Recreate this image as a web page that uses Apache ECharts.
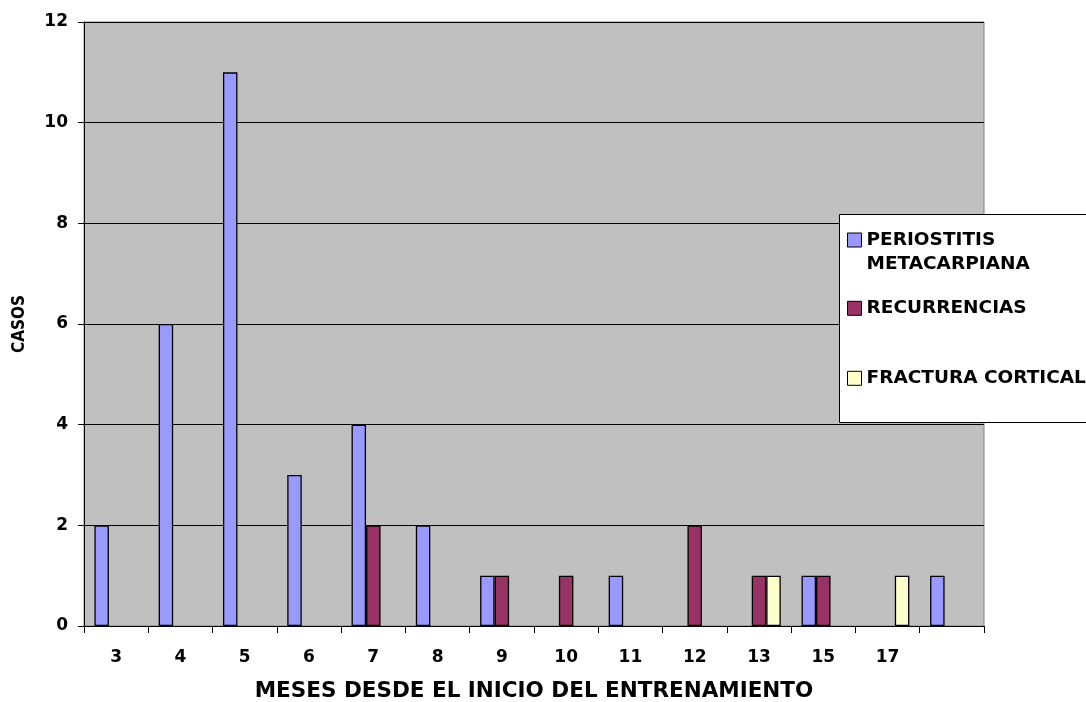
<!DOCTYPE html>
<html>
<head>
<meta charset="utf-8">
<script src="https://cdn.jsdelivr.net/npm/echarts@6/dist/echarts.min.js"></script>
<style>
  html, body { margin: 0; padding: 0; background: #fff; }
  #chart { width: 1086px; height: 702px; }
</style>
</head>
<body>
<div id="chart"></div>
<script>
// Months since the start of training (last slot has no label)
const categories = ['3', '4', '5', '6', '7', '8', '9', '10', '11', '12', '13', '15', '17', ''];

// Case counts per month
const periostitis = [2, 6, 11, 3, 4, 2, 1, 0, 1, 0, 0, 1, 0, 1];
const recurrencias = [0, 0, 0, 0, 2, 0, 1, 1, 0, 2, 1, 1, 0, 0];
const fractura = [0, 0, 0, 0, 0, 0, 0, 0, 0, 0, 1, 0, 1, 0];

const seriesNames = ['PERIOSTITIS METACARPIANA', 'RECURRENCIAS', 'FRACTURA CORTICAL'];
const legendLabels = ['\nPERIOSTITIS\nMETACARPIANA', 'RECURRENCIAS', 'FRACTURA CORTICAL'];
const seriesColors = ['#9999FF', '#993366', '#FFFFCC'];
const seriesData = [periostitis, recurrencias, fractura];

const yTicks = { min: 0, max: 12, interval: 2 };

const font = 'DejaVu Sans, Verdana, sans-serif';
const textBase = { fontFamily: font, fontWeight: 'bold', fontSize: 17, color: '#000' };

const chart = echarts.init(document.getElementById('chart'));

// empty months draw no bar at all
const toBars = arr => arr.map(v => (v === 0 ? '-' : v));

const legendTops = [204, 296.3, 366.3];

chart.setOption({
  animation: false,
  backgroundColor: '#ffffff',
  grid: {
    left: 84, right: 102, top: 22, bottom: 76,
    outerBoundsMode: 'none',
    containLabel: false,
    show: true, backgroundColor: '#C0C0C0', borderColor: '#808080', borderWidth: 1
  },
  graphic: [{
    type: 'rect', z: 3,
    shape: { x: 839.5, y: 214.5, width: 260, height: 208 },
    style: { fill: '#ffffff', stroke: '#000000', lineWidth: 1 }
  }],
  legend: seriesNames.map((name, i) => ({
    data: [name],
    formatter: () => legendLabels[i],
    orient: 'vertical',
    left: 847,
    top: legendTops[i],
    padding: 0,
    itemWidth: 14,
    itemHeight: 14,
    itemGap: 0,
    icon: 'rect',
    selectedMode: false,
    z: 5,
    itemStyle: { borderColor: '#000', borderWidth: 1 },
    textStyle: Object.assign({}, textBase, { fontSize: 18.5, lineHeight: 24 })
  })),
  xAxis: {
    type: 'category',
    data: categories,
    name: 'MESES DESDE EL INICIO DEL ENTRENAMIENTO',
    nameLocation: 'middle',
    nameGap: 54,
    nameTextStyle: Object.assign({}, textBase, { fontSize: 21.5 }),
    axisLine: { lineStyle: { color: '#000', width: 1 } },
    axisTick: { show: true, length: 7, lineStyle: { color: '#000' } },
    axisLabel: Object.assign({}, textBase, { margin: 23, interval: 0 }),
    splitLine: { show: false }
  },
  yAxis: {
    type: 'value',
    min: yTicks.min, max: yTicks.max, interval: yTicks.interval,
    name: 'CASOS',
    nameLocation: 'middle',
    nameGap: 56,
    nameTextStyle: Object.assign({}, textBase, {
      fontFamily: 'DejaVu Sans Condensed, DejaVu Sans, sans-serif',
      fontSize: 17
    }),
    axisLine: { show: true, lineStyle: { color: '#000', width: 1 } },
    axisTick: { show: true, length: 6, lineStyle: { color: '#000' } },
    axisLabel: Object.assign({}, textBase, { margin: 16 }),
    splitLine: { show: true, lineStyle: { color: '#000', width: 1 } }
  },
  series: seriesNames.map((name, i) => ({
    name: name,
    type: 'bar',
    data: toBars(seriesData[i]),
    barWidth: 14.5,
    barGap: '0%',
    itemStyle: { color: seriesColors[i], borderColor: '#000', borderWidth: 1.3 }
  }))
});
</script>
</body>
</html>
